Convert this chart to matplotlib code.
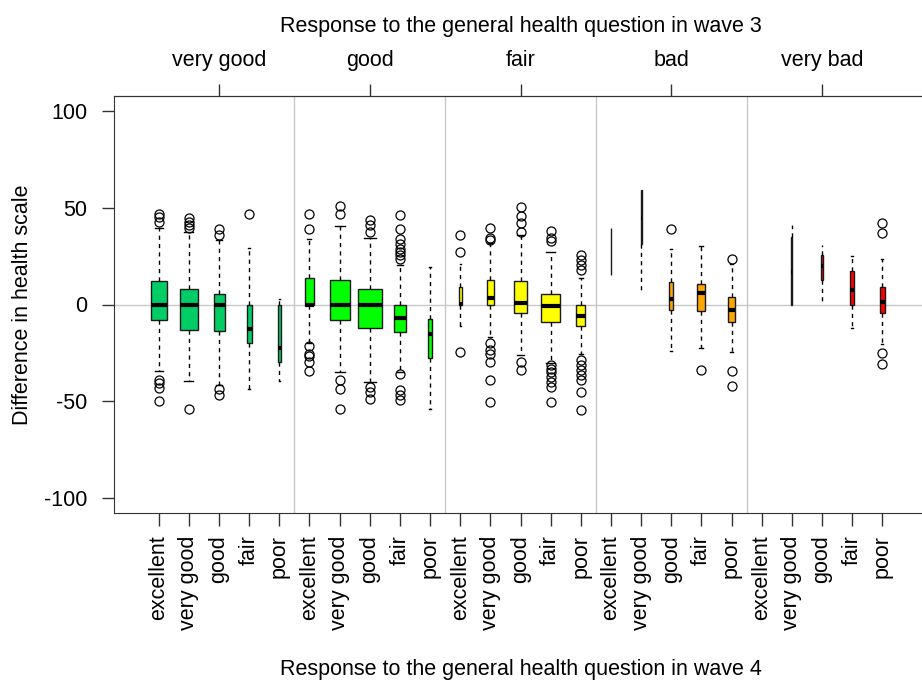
#!/usr/bin/env python3
"""
Change in health scale between waves, split by self-rated health.

Boxplots of the difference in health scale, grouped by the general health
answer in wave 3 (top axis) and wave 4 (bottom axis). Box widths follow
sqrt(n) as in R's varwidth boxplots.
"""

import matplotlib
matplotlib.use("Agg")
import matplotlib.pyplot as plt
import numpy as np

plt.rcParams["font.family"] = ["Liberation Sans", "DejaVu Sans"]

# ---------------------------------------------------------------------------
# Data
# ---------------------------------------------------------------------------
wave3_levels = ["very good", "good", "fair", "bad", "very bad"]
wave4_levels = ["excellent", "very good", "good", "fair", "poor"]
group_colors = ["#00CD66", "#00FF00", "#FFFF00", "#FFA500", "#FF0000"]

# one entry per box: wave 3 group outer, wave 4 level inner
n_obs = [420, 549, 209, 46, 15,
         113, 702, 1000, 236, 36,
         12, 97, 335, 592, 133,
         1, 2, 26, 105, 97,
         0, 2, 2, 22, 36]

whisker_low = [-34.4, -39.4, -41.8, -44.0, -39.7,
               -20.2, -34.9, -40.1, -34.9, -54.1,
               -11.1, -16.8, -26.3, -30.2, -25.8,
               15.5, 5.7, -24.2, -22.5, -24.7,
               0.0, 0.0, 0.0, -12.1, -20.7]
q1 = [-7.8, -13.0, -13.8, -20.2, -29.7,
      -0.5, -7.8, -12.3, -14.0, -27.5,
      0.0, 0.0, -4.3, -9.3, -11.2,
      15.5, 31.1, -2.6, -3.3, -9.0,
      0.0, 0.0, 12.6, 0.0, -4.3]
median = [0.0, 0.0, 0.0, -12.8, -22.3,
          0.0, 0.0, 0.0, -6.9, -15.5,
          0.5, 3.6, 0.8, -0.7, -6.1,
          27.5, 45.0, 3.1, 5.7, -3.1,
          0.0, 17.0, 20.0, 7.4, 1.3]
q3 = [12.1, 7.8, 5.2, 0.0, 0.0,
      13.5, 12.6, 7.8, 0.0, -7.3,
      9.1, 12.6, 12.1, 5.2, 0.0,
      39.4, 59.2, 11.4, 10.7, 4.1,
      0.0, 35.0, 25.5, 17.3, 9.1]
whisker_high = [39.4, 37.3, 33.3, 29.5, 3.1,
                33.7, 40.6, 34.2, 20.4, 19.2,
                21.2, 31.6, 35.9, 27.3, 13.5,
                39.4, 59.2, 29.0, 30.4, 21.2,
                0.0, 41.1, 30.7, 25.0, 23.8]
outliers = [
    [47.1, 45.4, 42.8, -38.9, -40.9, -43.5, -50.1],
    [44.6, 42.8, 41.1, 39.4, -53.9],
    [38.9, 35.9, -44.0, -47.0],
    [47.1],
    [],
    [46.8, 39.0, -21.4, -25.4, -26.6, -29.7, -34.4],
    [50.9, 47.1, -39.2, -43.9, -54.1],
    [44.0, 41.1, 37.6, -42.7, -45.3, -49.2],
    [46.3, 38.9, 33.7, 31.1, 29.0, 27.3, 25.5, 23.8,
     -36.1, -44.4, -47.0, -49.6],
    [],
    [35.9, 27.3, -24.6],
    [39.4, 34.2, 33.3, -20.2, -23.7, -25.4, -29.7, -39.2, -50.5],
    [50.6, 45.8, 42.0, 37.6, -29.7, -34.0],
    [38.1, 34.2, 33.0, -31.5, -33.2, -34.9, -37.5, -40.1, -42.7, -50.5],
    [25.5, 23.0, 20.4, 17.8, -28.9, -31.5, -34.0, -36.6, -39.2, -45.3, -54.8],
    [],
    [],
    [39.0],
    [-33.7],
    [23.8, -34.4, -42.2],
    [],
    [],
    [],
    [],
    [42.0, 36.8, -25.1, -30.6],
]

FS = 15.5


# ---------------------------------------------------------------------------
# Plot
# ---------------------------------------------------------------------------
def main() -> None:
    fig = plt.figure(figsize=(9.22, 6.82), dpi=100)
    # axis runs past the right edge of the canvas, as in the reference
    ax = fig.add_axes([113.5 / 922, 1 - 513 / 682, 814 / 922, 417 / 682])

    n_groups = len(wave3_levels)
    n_levels = len(wave4_levels)
    positions = np.arange(1, n_groups * n_levels + 1)
    n_arr = np.array(n_obs, dtype=float)
    widths = 0.8 * np.sqrt(n_arr / n_arr.max())

    stats, pos, wid, cols = [], [], [], []
    for i in range(len(n_obs)):
        if n_obs[i] == 0:
            continue
        stats.append(dict(
            whislo=whisker_low[i], q1=q1[i], med=median[i], q3=q3[i],
            whishi=whisker_high[i], fliers=outliers[i],
        ))
        pos.append(positions[i])
        wid.append(widths[i])
        cols.append(group_colors[i // n_levels])

    wid = np.array(wid)
    parts = ax.bxp(
        stats, positions=pos, widths=wid, capwidths=0.5 * wid,
        patch_artist=True, manage_ticks=False,
        boxprops=dict(edgecolor="#1a1a1a", linewidth=1.0),
        medianprops=dict(color="black", linewidth=3, solid_capstyle="butt"),
        whiskerprops=dict(color="black", linewidth=1.0, linestyle=(0, (3, 3))),
        capprops=dict(color="black", linewidth=1.0),
        flierprops=dict(marker="o", markerfacecolor="none",
                        markeredgecolor="black", markersize=6.5,
                        markeredgewidth=0.9),
    )
    for box, c in zip(parts["boxes"], cols):
        box.set_facecolor(c)
        box.set_zorder(3)
    for key in ("medians", "whiskers", "caps", "fliers"):
        for art in parts[key]:
            art.set_zorder(4)

    # reference lines
    ax.axhline(0, color="#c8c8c8", linewidth=1, zorder=0)
    for g in range(1, n_groups):
        ax.axvline(g * n_levels + 0.5, color="#c8c8c8", linewidth=1, zorder=0)

    ax.set_xlim(-0.5, 26.5)
    ax.set_ylim(-108, 108)

    ax.set_xticks(positions)
    ax.set_xticklabels(wave4_levels * n_groups, rotation=90, fontsize=FS)
    ax.set_yticks([-100, -50, 0, 50, 100])
    ax.set_yticklabels(["-100", "-50", "0", "50", "100"], fontsize=FS)
    ax.tick_params(axis="both", length=9, width=1, color="#333333", pad=10)
    ax.tick_params(axis="x", pad=7)

    ax.spines["right"].set_visible(False)
    for side in ("left", "top", "bottom"):
        ax.spines[side].set_color("#333333")

    centers = [g * n_levels + (n_levels + 1) / 2 for g in range(n_groups)]
    top = ax.secondary_xaxis("top")
    top.set_xticks(centers)
    top.set_xticklabels(wave3_levels, fontsize=FS)
    top.tick_params(length=9, width=1, color="#333333", pad=9)
    top.spines["top"].set_color("#333333")

    xc = (113.5 + 407) / 922
    fig.text(xc, 1 - 32 / 682, "Response to the general health question in wave 3",
             ha="center", va="baseline", fontsize=FS)
    fig.text(xc, 1 - 675 / 682, "Response to the general health question in wave 4",
             ha="center", va="baseline", fontsize=FS)
    fig.text(22.5 / 922, 1 - 304.3 / 682, "Difference in health scale",
             ha="center", va="center", rotation=90, fontsize=FS)

    fig.savefig("out.png", dpi=100)
    plt.close(fig)


if __name__ == "__main__":
    main()
